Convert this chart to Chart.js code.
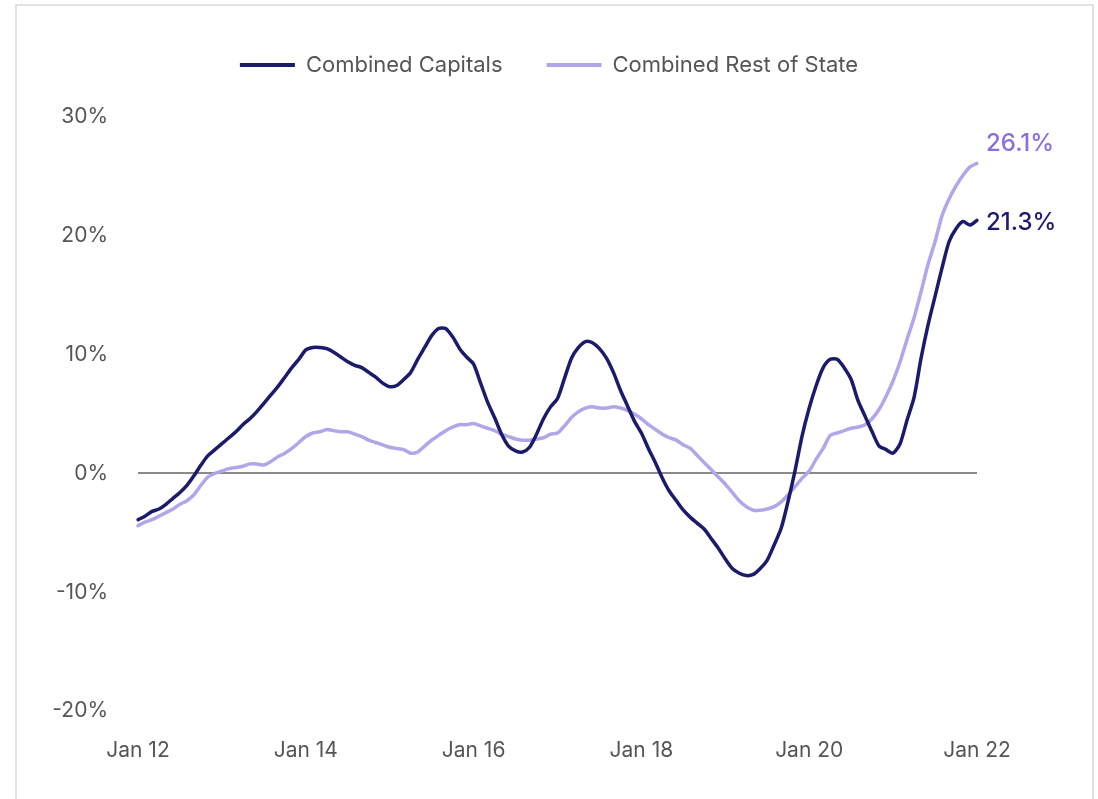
<!DOCTYPE html>
<html>
<head>
<meta charset="utf-8">
<script src="https://cdn.jsdelivr.net/npm/chart.js@4"></script>
<style>
    body { margin: 0; background: #fff; overflow: hidden; }
    #frame {
        position: absolute; left: 15px; top: 4px; width: 1075px; height: 900px;
        border: 2px solid #e2e2e2;
    }
    #wrap { position: absolute; left: 0; top: 0; width: 1098px; height: 799px; }
</style>
</head>
<body>
<div id="frame"></div>
<div id="wrap"><canvas id="chart" width="1098" height="799"></canvas></div>
<script>
// =========================
// DATA
// =========================
const startYear = 2012;
const monthNames = ['Jan','Feb','Mar','Apr','May','Jun','Jul','Aug','Sep','Oct','Nov','Dec'];

// Jan 12 .. Jan 22, monthly, annual change in %
const combinedCapitals = [
    -3.9, -3.6, -3.2, -3.0, -2.6, -2.1, -1.6, -1.0, -0.2, 0.7, 1.5, 2.0,
    2.5, 3.0, 3.5, 4.1, 4.6, 5.2, 5.9, 6.6, 7.3, 8.1, 8.9, 9.6,
    10.4, 10.6, 10.6, 10.5, 10.2, 9.8, 9.4, 9.1, 8.9, 8.5, 8.1, 7.6,
    7.3, 7.4, 7.9, 8.5, 9.6, 10.6, 11.6, 12.2, 12.2, 11.5, 10.5, 9.8,
    9.2, 7.6, 6.0, 4.7, 3.3, 2.3, 1.9, 1.8, 2.2, 3.3, 4.6, 5.6,
    6.3, 8.0, 9.7, 10.6, 11.1, 11.0, 10.5, 9.7, 8.5, 7.0, 5.7, 4.4,
    3.4, 2.1, 0.9, -0.4, -1.5, -2.3, -3.1, -3.7, -4.2, -4.7, -5.5, -6.3,
    -7.2, -8.0, -8.4, -8.6, -8.5, -8.0, -7.3, -6.0, -4.6, -2.3, 0.3, 3.2,
    5.5, 7.4, 8.9, 9.6, 9.6, 8.9, 7.9, 6.1, 4.8, 3.5, 2.3, 2.0,
    1.7, 2.5, 4.5, 6.4, 9.7, 12.5, 14.9, 17.3, 19.5, 20.6, 21.2, 20.9,
    21.3
];

const combinedRestOfState = [
    -4.4, -4.1, -3.9, -3.6, -3.3, -3.0, -2.6, -2.3, -1.8, -1.0, -0.3, 0.0,
    0.2, 0.4, 0.5, 0.6, 0.8, 0.8, 0.7, 1.0, 1.4, 1.7, 2.1, 2.6,
    3.1, 3.4, 3.5, 3.7, 3.6, 3.5, 3.5, 3.3, 3.1, 2.8, 2.6, 2.4,
    2.2, 2.1, 2.0, 1.7, 1.8, 2.3, 2.8, 3.2, 3.6, 3.9, 4.1, 4.1,
    4.2, 4.0, 3.8, 3.6, 3.3, 3.1, 2.9, 2.8, 2.8, 2.9, 3.0, 3.3,
    3.4, 4.0, 4.7, 5.2, 5.5, 5.6, 5.5, 5.5, 5.6, 5.5, 5.3, 5.0,
    4.6, 4.1, 3.7, 3.3, 3.0, 2.8, 2.4, 2.1, 1.5, 0.9, 0.3, -0.3,
    -0.9, -1.6, -2.3, -2.8, -3.1, -3.1, -3.0, -2.8, -2.4, -1.8, -1.1, -0.4,
    0.2, 1.2, 2.1, 3.2, 3.4, 3.6, 3.8, 3.9, 4.1, 4.6, 5.4, 6.5,
    7.8, 9.4, 11.3, 13.1, 15.3, 17.6, 19.5, 21.7, 23.1, 24.2, 25.1, 25.8,
    26.1
];

const yTicks = [30, 20, 10, 0, -10, -20];

// month labels "Jan 12", "Feb 12", ...
const labels = combinedCapitals.map((v, i) =>
    monthNames[i % 12] + ' ' + String((startYear + Math.floor(i / 12)) % 100).padStart(2, '0'));

const colorCapitals = '#1b1a6c';
const colorRest = '#b3a5ea';
const colorRestLabel = '#8a6ee0';
const fontFamily = 'Inter, "Noto Sans", sans-serif';

// =========================
// PLUGINS
// =========================
// legend: fixed height, centred on the whole page
const legendBox = {
    id: 'legendBox',
    beforeInit(chart) {
        const fit = chart.legend.fit;
        chart.legend.fit = function () {
            fit.bind(chart.legend)();
            this.height = 107;
        };
    },
    afterLayout(chart) {
        chart.legend.left = 0;
        chart.legend.right = chart.width;
        chart.legend.width = chart.width;
    }
};

const endLabels = {
    id: 'endLabels',
    afterDatasetsDraw(chart) {
        const ctx = chart.ctx;
        const offsets = [2, -20];
        const colors = [colorCapitals, colorRestLabel];
        chart.data.datasets.forEach((ds, i) => {
            const meta = chart.getDatasetMeta(i);
            const last = meta.data[meta.data.length - 1];
            const val = ds.data[ds.data.length - 1];
            ctx.save();
            ctx.font = '500 24px ' + fontFamily;
            ctx.fillStyle = colors[i];
            ctx.textAlign = 'left';
            ctx.textBaseline = 'middle';
            ctx.fillText(val.toFixed(1) + '%', last.x + 9, last.y + offsets[i]);
            ctx.restore();
        });
    }
};

// =========================
// CHART
// =========================
const ctx = document.getElementById('chart').getContext('2d');
window.mainChart = new Chart(ctx, {
    type: 'line',
    data: {
        labels: labels,
        datasets: [
            {
                label: 'Combined Capitals',
                data: combinedCapitals,
                borderColor: colorCapitals,
                backgroundColor: colorCapitals,
                borderWidth: 3.5,
                pointRadius: 0,
                tension: 0.25,
                borderCapStyle: 'round',
                borderJoinStyle: 'round'
            },
            {
                label: 'Combined Rest of State',
                data: combinedRestOfState,
                borderColor: colorRest,
                backgroundColor: colorRest,
                borderWidth: 3.5,
                pointRadius: 0,
                tension: 0.25,
                borderCapStyle: 'round',
                borderJoinStyle: 'round'
            }
        ]
    },
    options: {
        responsive: false,
        animation: false,
        layout: { padding: { top: 10, left: 0, right: 121, bottom: 0 } },
        plugins: {
            legend: {
                display: true,
                position: 'top',
                labels: {
                    color: '#555',
                    font: { size: 22, family: fontFamily },
                    boxWidth: 55,
                    boxHeight: 4,
                    padding: 44,
                    generateLabels: chart => chart.data.datasets.map((ds, i) => ({
                        text: ds.label,
                        fillStyle: ds.borderColor,
                        strokeStyle: ds.borderColor,
                        lineWidth: 0,
                        hidden: false,
                        datasetIndex: i,
                        fontColor: '#555'
                    }))
                }
            },
            tooltip: { enabled: false }
        },
        scales: {
            x: {
                type: 'category',
                offset: false,
                grid: { display: false, drawTicks: false },
                border: { display: false },
                ticks: {
                    autoSkip: false,
                    maxRotation: 0,
                    padding: 27,
                    color: '#555',
                    font: { size: 21, family: fontFamily },
                    callback: function (val, index) {
                        return index % 24 === 0 ? this.getLabelForValue(val) : null;
                    }
                },
                afterFit: scale => { scale.height = 88; }
            },
            y: {
                min: -20,
                max: 30,
                afterBuildTicks: scale => { scale.ticks = yTicks.map(v => ({ value: v })); },
                grid: {
                    drawTicks: false,
                    lineWidth: 2,
                    color: c => (c.tick && c.tick.value === 0 ? '#8a8a8a' : 'rgba(0,0,0,0)')
                },
                border: { display: false },
                ticks: {
                    padding: 30,
                    color: '#555',
                    font: { size: 21, family: fontFamily },
                    callback: val => val + '%'
                },
                afterFit: scale => { scale.width = 138; }
            }
        }
    },
    plugins: [legendBox, endLabels]
});
</script>
</body>
</html>
